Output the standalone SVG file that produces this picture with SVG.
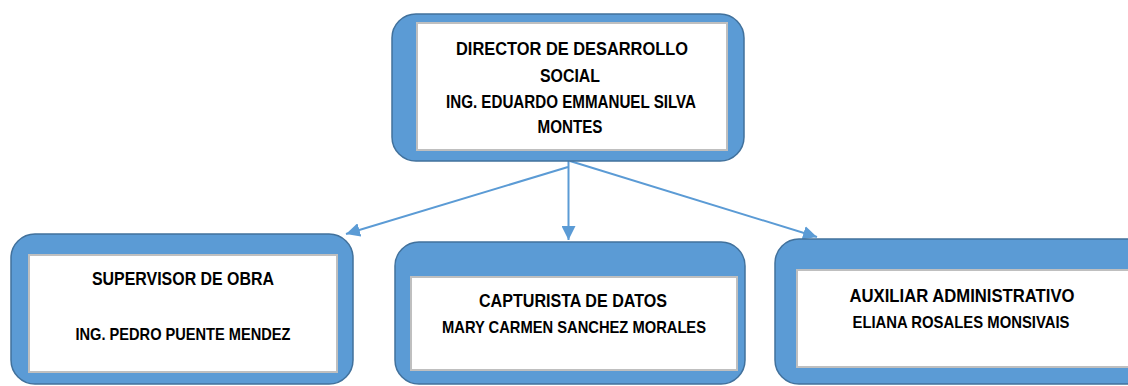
<svg xmlns="http://www.w3.org/2000/svg" width="1128" height="386" viewBox="0 0 1128 386">
<style>
.outer{fill:#5B9BD5;stroke:#41719C;stroke-width:1.5}
.inner{fill:#ffffff;stroke:#BFBFBF;stroke-width:2}
.t{font-family:"Liberation Sans",Arial,sans-serif;font-weight:bold;fill:#000;text-anchor:middle}
.conn{stroke:#5B9BD5;stroke-width:2;fill:none}
</style>
<defs>
<marker id="ah" viewBox="0 0 10 10" refX="10" refY="5" markerWidth="14" markerHeight="14" markerUnits="userSpaceOnUse" orient="auto"><path d="M0,0 L10,5 L0,10 z" fill="#5B9BD5"/></marker>
</defs>
<rect width="1128" height="386" fill="#fff"/>
<g id="connectors">
<line class="conn" x1="568.5" y1="160" x2="568.5" y2="240" marker-end="url(#ah)"/>
<line class="conn" x1="568" y1="167" x2="346" y2="234" marker-end="url(#ah)"/>
<line class="conn" x1="570" y1="161" x2="817" y2="237" marker-end="url(#ah)"/>
</g>
<g id="director">
<rect class="outer" x="392" y="14" width="352" height="147" rx="24"/>
<rect class="inner" x="417" y="23" width="310" height="127"/>
<text class="t" x="572" y="55" font-size="19" textLength="232" lengthAdjust="spacingAndGlyphs">DIRECTOR DE DESARROLLO</text>
<text class="t" x="570" y="82" font-size="19" textLength="60" lengthAdjust="spacingAndGlyphs">SOCIAL</text>
<text class="t" x="571" y="108" font-size="18" textLength="250" lengthAdjust="spacingAndGlyphs">ING. EDUARDO EMMANUEL SILVA</text>
<text class="t" x="570" y="133" font-size="18" textLength="65" lengthAdjust="spacingAndGlyphs">MONTES</text>
</g>
<g id="supervisor">
<rect class="outer" x="11" y="234" width="342" height="150" rx="24"/>
<rect class="inner" x="29" y="255" width="308" height="117"/>
<text class="t" x="183" y="285" font-size="18" textLength="182" lengthAdjust="spacingAndGlyphs">SUPERVISOR DE OBRA</text>
<text class="t" x="183" y="340" font-size="17" textLength="215" lengthAdjust="spacingAndGlyphs">ING. PEDRO PUENTE MENDEZ</text>
</g>
<g id="capturista">
<rect class="outer" x="395" y="242" width="350" height="142" rx="24"/>
<rect class="inner" x="411" y="277" width="326" height="93"/>
<text class="t" x="573" y="307" font-size="18" textLength="188" lengthAdjust="spacingAndGlyphs">CAPTURISTA DE DATOS</text>
<text class="t" x="574" y="333" font-size="17" textLength="264" lengthAdjust="spacingAndGlyphs">MARY CARMEN SANCHEZ MORALES</text>
</g>
<g id="auxiliar">
<rect class="outer" x="775" y="239" width="380" height="145" rx="24"/>
<rect class="inner" x="797" y="270" width="360" height="97"/>
<text class="t" x="962" y="302" font-size="18" textLength="225" lengthAdjust="spacingAndGlyphs">AUXILIAR ADMINISTRATIVO</text>
<text class="t" x="961" y="328" font-size="17" textLength="217" lengthAdjust="spacingAndGlyphs">ELIANA ROSALES MONSIVAIS</text>
</g>
</svg>
